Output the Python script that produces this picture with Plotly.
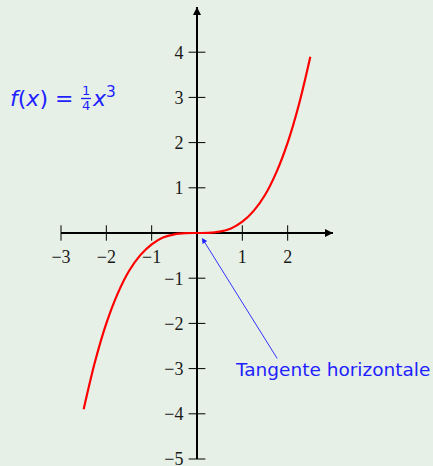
import plotly.graph_objects as go

# ---- data ----
curve_x = [-2.5, -2.25, -2.0, -1.75, -1.5, -1.25, -1.0, -0.75, -0.5, -0.25, 0.0,
           0.25, 0.5, 0.75, 1.0, 1.25, 1.5, 1.75, 2.0, 2.25, 2.5]
curve_y = [-3.9, -2.85, -2.0, -1.34, -0.84, -0.49, -0.25, -0.1, -0.03, -0.004, 0.0,
           0.004, 0.03, 0.1, 0.25, 0.49, 0.84, 1.34, 2.0, 2.85, 3.9]

x_ticks = [-3, -2, -1, 1, 2]
x_tick_labels = ["\u22123", "\u22122", "\u22121", "1", "2"]
y_ticks = [4, 3, 2, 1, -1, -2, -3, -4, -5]
y_tick_labels = ["4", "3", "2", "1", "\u22121", "\u22122", "\u22123", "\u22124", "\u22125"]

x_range = [-3, 3]
y_range = [-5, 5]

tangent_point = (0.11, -0.11)
tangent_tail = (1.79, -2.81)
tangent_text = "Tangente horizontale"

BG = "#e6f0e6"
BLUE = "#1f1fff"
TXT = "DejaVu Sans"

W, H = 433, 466
ML, MR, MT, MB = 61, 100, 7, 7
PW, PH = W - ML - MR, H - MT - MB


def px(xp):
    return (xp - ML) / PW


def py(yp):
    return (H - MB - yp) / PH


fig = go.Figure()

# curve
fig.add_trace(go.Scatter(x=curve_x, y=curve_y, mode="lines",
                         line=dict(color="#ff0000", width=2.2, shape="spline"),
                         hoverinfo="skip", showlegend=False))

# crossing ticks on the axes
fig.add_trace(go.Scatter(x=x_ticks, y=[0] * len(x_ticks), mode="markers",
                         marker=dict(symbol="line-ns", size=11,
                                     line=dict(color="black", width=1)),
                         cliponaxis=False, hoverinfo="skip", showlegend=False))
fig.add_trace(go.Scatter(x=[0] * len(y_ticks), y=y_ticks, mode="markers",
                         marker=dict(symbol="line-ew", size=12,
                                     line=dict(color="black", width=1)),
                         cliponaxis=False, hoverinfo="skip", showlegend=False))

tickfont = dict(family="Liberation Serif", size=18, color="#1a1a1a")
fig.update_layout(
    width=W, height=H,
    margin=dict(l=ML, r=MR, t=MT, b=MB, autoexpand=False),
    paper_bgcolor=BG, plot_bgcolor=BG,
    showlegend=False,
    xaxis=dict(range=x_range, anchor="free", position=0.5, showgrid=False,
               zeroline=False, showline=True, linecolor="black", linewidth=2,
               ticks="", tickvals=x_ticks, ticktext=x_tick_labels,
               ticklabelstandoff=7, ticklabeloverflow="allow", automargin=False,
               layer="below traces", tickfont=tickfont),
    yaxis=dict(range=y_range, anchor="free", position=0.5, showgrid=False,
               zeroline=False, showline=True, linecolor="black", linewidth=2,
               ticks="", tickvals=y_ticks, ticktext=y_tick_labels,
               ticklabelstandoff=9, ticklabeloverflow="allow", automargin=False,
               layer="below traces", tickfont=tickfont),
)

# axis arrowheads
fig.add_annotation(x=x_range[1], y=0, ax=x_range[1] - 0.2, ay=0, xref="x", yref="y",
                   axref="x", ayref="y", text="", showarrow=True, arrowhead=2,
                   arrowsize=0.8, arrowwidth=2, arrowcolor="black", standoff=0)
fig.add_annotation(x=0, y=y_range[1], ax=0, ay=y_range[1] - 0.3, xref="x", yref="y",
                   axref="x", ayref="y", text="", showarrow=True, arrowhead=2,
                   arrowsize=0.8, arrowwidth=2, arrowcolor="black", standoff=0)

# tangent arrow
fig.add_annotation(x=tangent_point[0], y=tangent_point[1], ax=tangent_tail[0],
                   ay=tangent_tail[1], xref="x", yref="y", axref="x", ayref="y",
                   text="", showarrow=True, arrowhead=2, arrowsize=1.2,
                   arrowwidth=0.9, arrowcolor=BLUE, standoff=0)
fig.add_annotation(x=px(233), y=py(369), xref="paper", yref="paper",
                   xanchor="left", yanchor="middle", text=tangent_text,
                   showarrow=False, font=dict(family=TXT, size=18.5, color=BLUE))

# formula f(x) = 1/4 x^3
ffont = dict(family=TXT, size=22, color=BLUE)
fig.add_annotation(x=px(8), y=py(99), xref="paper", yref="paper",
                   xanchor="left", yanchor="middle",
                   text="<i>f</i>(<i>x</i>) =", showarrow=False, font=ffont)
fig.add_annotation(x=px(86), y=py(91), xref="paper", yref="paper",
                   xanchor="center", yanchor="middle", text="1", showarrow=False,
                   font=dict(family=TXT, size=13, color=BLUE))
fig.add_annotation(x=px(86), y=py(106), xref="paper", yref="paper",
                   xanchor="center", yanchor="middle", text="4", showarrow=False,
                   font=dict(family=TXT, size=13, color=BLUE))
fig.add_shape(type="line", xref="paper", yref="paper", x0=px(81), x1=px(91),
              y0=py(98.5), y1=py(98.5), line=dict(color=BLUE, width=1.3))
fig.add_annotation(x=px(90), y=py(97), xref="paper", yref="paper",
                   xanchor="left", yanchor="middle",
                   text="<i>x</i><sup>3</sup>", showarrow=False, font=ffont)

fig.write_html("out.html", config={"displayModeBar": False},
               post_script="document.body.style.margin='0';")
